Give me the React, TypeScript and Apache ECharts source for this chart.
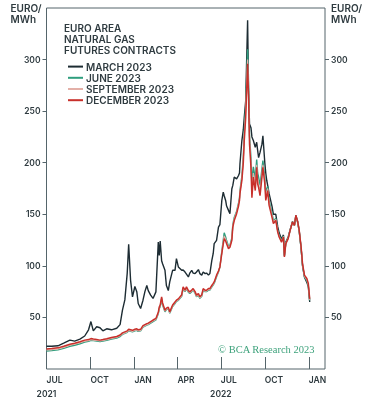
import React, { useEffect, useRef } from "react";
import * as echarts from "echarts";

const dates = [
  "2021-07-01","2021-07-12","2021-07-25","2021-08-06","2021-08-19","2021-08-29","2021-09-09","2021-09-19","2021-09-27","2021-10-02",
  "2021-10-07","2021-10-14","2021-10-21","2021-10-27","2021-11-04","2021-11-14","2021-11-25","2021-12-02","2021-12-07","2021-12-12",
  "2021-12-17","2021-12-20","2021-12-24","2021-12-28","2022-01-02","2022-01-06","2022-01-09","2022-01-14","2022-01-19","2022-01-23",
  "2022-01-27","2022-01-30","2022-02-04","2022-02-09","2022-02-15","2022-02-20","2022-02-22","2022-02-24","2022-02-27","2022-03-01",
  "2022-03-06","2022-03-09","2022-03-13","2022-03-16","2022-03-22","2022-03-27","2022-03-30","2022-04-03","2022-04-10","2022-04-13",
  "2022-04-17","2022-04-20","2022-04-24","2022-04-27","2022-05-01","2022-05-04","2022-05-08","2022-05-11","2022-05-15","2022-05-18",
  "2022-05-22","2022-05-25","2022-05-29","2022-06-01","2022-06-05","2022-06-08","2022-06-12","2022-06-15","2022-06-17","2022-06-22",
  "2022-06-26","2022-06-29","2022-07-03","2022-07-06","2022-07-08","2022-07-11","2022-07-13","2022-07-17","2022-07-20","2022-07-24",
  "2022-07-26","2022-07-29","2022-08-03","2022-08-07","2022-08-09","2022-08-10","2022-08-14","2022-08-17","2022-08-19","2022-08-22",
  "2022-08-26","2022-08-28","2022-08-30","2022-09-02","2022-09-04","2022-09-07","2022-09-11","2022-09-14","2022-09-16","2022-09-18",
  "2022-09-21","2022-09-25","2022-09-27","2022-10-01","2022-10-03","2022-10-05","2022-10-07","2022-10-10","2022-10-16","2022-10-19",
  "2022-10-24","2022-10-28","2022-10-31","2022-11-05","2022-11-09","2022-11-11","2022-11-14","2022-11-19","2022-11-23","2022-11-28",
  "2022-12-02","2022-12-05","2022-12-09","2022-12-12","2022-12-16","2022-12-19","2022-12-23","2022-12-28","2022-12-31","2023-01-03",
];

const march2023 = [
  22, 22, 22.5, 25, 28, 27, 29, 32, 38, 46,
  37, 41, 40, 37, 39, 38, 39.5, 43, 57, 67,
  93, 121, 86, 70, 80, 75, 63.5, 58.7, 66.7, 75,
  81, 76, 71.6, 68.4, 74.8, 123, 110, 124, 105, 102,
  95.7, 81, 76, 84.4, 95.7, 95.7, 107, 99, 95.7, 96,
  94, 92, 89.3, 93, 95.7, 93, 92.5, 94, 96.4, 92.5,
  91, 94, 92.5, 93, 91, 92.5, 105, 112, 121.5, 124.8,
  137.6, 140, 163.4, 171.5, 168, 163.4, 158, 153.8, 150.6, 174.8,
  178, 186, 184.4, 187.6, 190, 199, 221.5, 232, 244, 260,
  338, 270, 237.6, 234, 225, 221.5, 215, 219.8, 212, 205,
  210, 218, 226, 200, 190, 183, 178, 170, 158, 150,
  150, 138, 132, 126, 130, 110, 123, 128, 135, 143,
  139.5, 149, 142.5, 134, 117, 100, 89, 84, 80, 65,
];

const june2023 = [
  17.5, 17.8, 18.5, 20, 22, 23, 24.5, 26, 26.8, 27.8,
  27.5, 27, 26.5, 27, 27.8, 29, 30, 31.5, 33.5, 34.5,
  35.5, 37, 36.5, 36, 37, 37.5, 36.5, 37, 40.5, 41.5,
  42.5, 43, 44.5, 46, 47.5, 53.5, 58.5, 60.5, 68, 62,
  55.5, 57.5, 58.5, 54, 60.5, 63.5, 65.5, 66.5, 70.5, 78,
  75, 78, 74.5, 73.2, 75, 76.5, 73.5, 70, 71.6, 68.5,
  70.5, 76.5, 75, 75, 76.5, 76.5, 79.5, 81.5, 83, 89.5,
  94, 99, 114, 125, 132, 128, 124.5, 119, 120, 127,
  140, 147, 153, 161, 166, 173, 187, 206, 230, 255,
  310, 270, 226, 205, 180, 196, 185, 203, 190, 186,
  178, 194, 202, 186, 172, 174, 177, 163, 151, 144,
  146, 134.5, 129.5, 124.5, 129, 109.5, 122.5, 127.5, 134.5, 142.5,
  139.3, 148, 141.5, 133.5, 117, 100.5, 89.5, 85.5, 81, 66.5,
];

const september2023 = [
  18.5, 18.8, 19.5, 21, 23, 24, 25.5, 27, 27.5, 28.5,
  28, 27.8, 27.3, 27.7, 28.5, 29.7, 30.7, 32.2, 34, 35,
  36, 37.5, 37, 36.5, 37.5, 38, 37, 37.5, 41, 42,
  43, 43.5, 45, 46.5, 48, 54, 59, 61, 69, 63,
  56, 58, 59, 54.5, 61, 64, 66, 67, 71, 78.6,
  75.4, 78.6, 75, 73.8, 75.5, 77, 74, 70.6, 72.2, 69,
  71, 77, 75.4, 75.5, 77, 77, 80, 82, 83.5, 90,
  94.5, 99, 113, 123, 129, 126, 123, 118, 119, 126,
  139, 145.5, 152, 160, 165, 172, 185, 203, 226, 250,
  300, 266, 222, 200, 172, 190, 178, 198, 184, 180,
  172, 189, 198, 182, 167, 171, 175, 161, 149, 142.5,
  145, 133.5, 128.5, 123.5, 128.5, 109, 122, 127, 134.5, 142.5,
  139.3, 148.5, 142, 134, 117.5, 101, 90, 86.5, 82, 67,
];

const december2023 = [
  19.5, 19.8, 20.5, 22, 24, 25, 26.5, 28, 28.5, 29.5,
  29, 28.5, 28, 28.5, 29.3, 30.5, 31.5, 33, 35, 36,
  37, 38.5, 38, 37.5, 38.5, 39, 38, 38.5, 42, 43,
  44, 44.5, 46, 47.5, 49, 55, 60, 62, 70, 64,
  57, 59, 60, 55.4, 62, 65, 66.7, 68, 72, 79.6,
  76.4, 79.6, 76, 74.8, 76.5, 78, 75, 71.6, 73.2, 70,
  72, 78, 76.4, 76.4, 78, 78, 81, 83, 84.4, 91,
  95, 99, 112, 121, 126.4, 124, 121.5, 116.7, 118, 124.8,
  137.6, 144, 150.6, 158, 163.4, 170, 182.8, 200, 221.5, 244,
  296, 263, 218, 195.6, 166, 186, 173, 195.6, 179.6, 176,
  168, 186, 195.6, 179.6, 163.4, 168, 173, 158.6, 147.3, 141,
  144, 132.8, 128, 123, 128, 108.6, 121.5, 126.4, 134.4, 142.5,
  139.3, 149, 142.5, 134.4, 118.3, 102, 91, 87.7, 83, 68,
];

const seriesNames = ["MARCH 2023", "JUNE 2023", "SEPTEMBER 2023", "DECEMBER 2023"];
const seriesValues = [march2023, june2023, september2023, december2023];
const seriesColors = ["#1d2c33", "#2f9e7e", "#e3b0a8", "#c8302b"];
const seriesWidths = [1.4, 1.4, 1.2, 1.5];

const yTicks = [50, 100, 150, 200, 250, 300];
const monthTicks = ["2021-07-01", "2021-10-01", "2022-01-01", "2022-04-01", "2022-07-01", "2022-10-01", "2023-01-01"];
const yearTicks = ["2021-07-01", "2022-07-01"];
const monthNames = ["JAN", "FEB", "MAR", "APR", "MAY", "JUN", "JUL", "AUG", "SEP", "OCT", "NOV", "DEC"];
const legendTitle = "EURO AREA\nNATURAL GAS\nFUTURES CONTRACTS";
const unitLabel = "EURO/\nMWh";
const sourceLabel = "© BCA Research 2023";

const ts = (s: string) => {
  const [y, m, d] = s.split("-").map(Number);
  return Date.UTC(y, m - 1, d);
};

const FONT = "Inter";
const WEIGHT = 600;
const TEXT = "#2f3b40";
const AXIS = "#55656b";

export default function App() {
  const ref = useRef<HTMLDivElement>(null);
  useEffect(() => {
    if (!ref.current) return;
    const chart = echarts.init(ref.current, undefined, { renderer: "svg" });
    const xMin = ts("2021-07-01");
    const xMax = ts("2023-02-04");
    const yAxisBase = (pos: "left" | "right") => ({
      type: "value",
      position: pos,
      min: 0,
      max: 350,
      interval: 50,
      splitLine: { show: false },
      axisLine: { show: false },
      axisTick: { show: true, inside: false, length: 4, lineStyle: { color: AXIS, width: 1 }, customValues: yTicks },
      axisLabel: {
        customValues: yTicks,
        margin: 6,
        color: TEXT,
        fontFamily: FONT,
        fontSize: 8.5,
        fontWeight: WEIGHT,
      },
    });
    chart.setOption({
      animation: false,
      grid: {
        left: 46.5,
        right: 44,
        top: 8,
        bottom: 29,
        show: true,
        borderColor: AXIS,
        borderWidth: 1,
        containLabel: false,
      },
      xAxis: [
        {
          type: "value",
          min: xMin,
          max: xMax,
          splitLine: { show: false },
          axisLine: { show: false },
          axisTick: {
            show: true,
            inside: true,
            length: 12,
            lineStyle: { color: AXIS, width: 1 },
            customValues: monthTicks.map(ts),
          },
          axisLabel: {
            customValues: monthTicks.map(ts),
            align: "left",
            margin: 6,
            color: TEXT,
            fontFamily: FONT,
            fontSize: 8.5,
            fontWeight: WEIGHT,
            formatter: (v: number) => monthNames[new Date(v).getUTCMonth()],
          },
        },
        {
          type: "value",
          position: "bottom",
          offset: 14,
          min: xMin,
          max: xMax,
          splitLine: { show: false },
          axisLine: { show: false },
          axisTick: { show: false },
          axisLabel: {
            customValues: yearTicks.map(ts),
            margin: 6,
            color: TEXT,
            fontFamily: FONT,
            fontSize: 8.5,
            fontWeight: WEIGHT,
            formatter: (v: number) => String(new Date(v).getUTCFullYear()),
          },
        },
      ],
      yAxis: [yAxisBase("left"), yAxisBase("right")],
      legend: {
        orient: "vertical",
        left: 63,
        top: 56,
        itemGap: 0,
        itemWidth: 15,
        itemHeight: 2,
        icon: "rect",
        data: seriesNames,
        selectedMode: false,
        textStyle: {
          color: TEXT,
          fontFamily: FONT,
          fontSize: 10,
          fontWeight: WEIGHT,
          lineHeight: 11.2,
          padding: [0, 0, 0, -2],
        },
      },
      graphic: [
        {
          type: "text",
          left: 64,
          top: 22,
          style: {
            text: legendTitle,
            fill: TEXT,
            font: `${WEIGHT} 10px ${FONT}`,
            lineHeight: 11.2,
          },
        },
        {
          type: "text",
          right: 369 - 41.5,
          top: 3,
          style: {
            text: unitLabel,
            fill: TEXT,
            font: `${WEIGHT} 10px ${FONT}`,
            lineHeight: 10.7,
            align: "right",
          },
        },
        {
          type: "text",
          left: 331,
          top: 3,
          style: {
            text: unitLabel,
            fill: TEXT,
            font: `${WEIGHT} 10px ${FONT}`,
            lineHeight: 10.7,
            align: "left",
          },
        },
        {
          type: "text",
          right: 369 - 315,
          top: 344,
          style: {
            text: sourceLabel,
            fill: "#3ea27c",
            font: `10.5px "Liberation Serif", serif`,
          },
        },
      ],
      series: seriesNames.map((name, i) => ({
        name,
        type: "line",
        xAxisIndex: 0,
        yAxisIndex: 0,
        showSymbol: false,
        symbol: "none",
        lineStyle: { color: seriesColors[i], width: seriesWidths[i] },
        itemStyle: { color: seriesColors[i] },
        data: dates.map((d, j) => [ts(d), seriesValues[i][j]]),
      })),
    });
    return () => chart.dispose();
  }, []);
  return <div ref={ref} style={{ position: "fixed", left: 0, top: 0, width: 369, height: 398 }} />;
}
